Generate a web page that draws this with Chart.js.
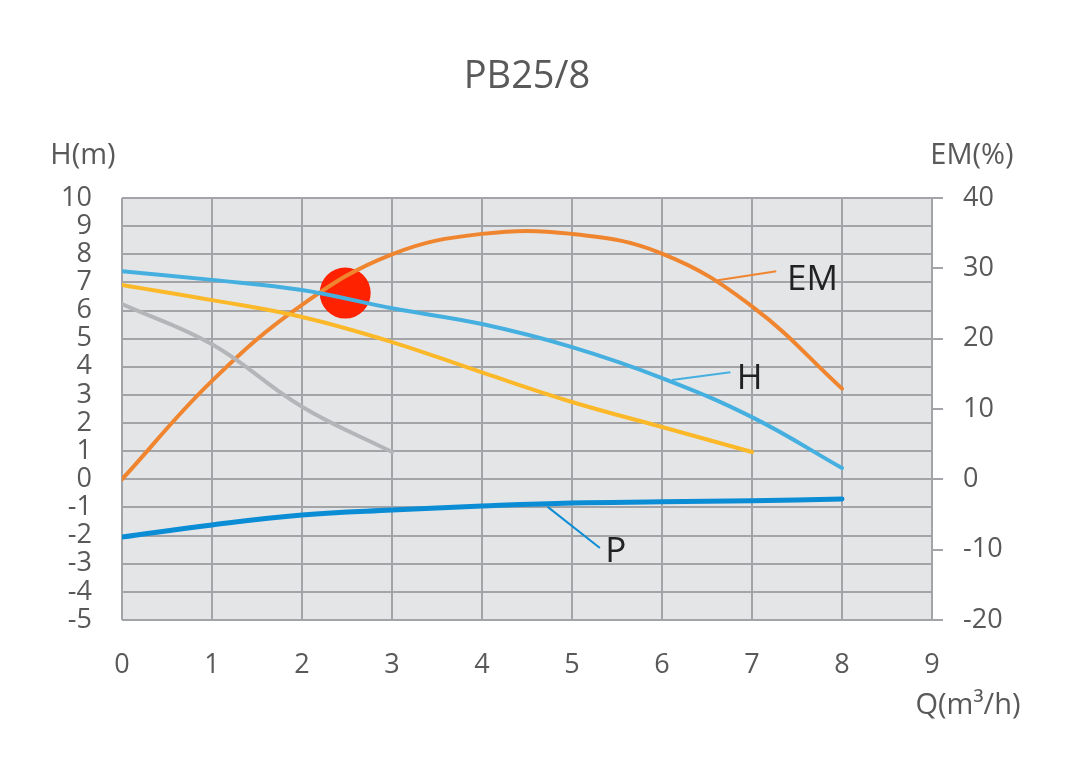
<!DOCTYPE html>
<html>
<head>
<meta charset="utf-8">
<script src="https://cdn.jsdelivr.net/npm/chart.js@4/dist/chart.umd.min.js"></script>
<style>
  html, body { margin: 0; padding: 0; background: #fff; }
  #wrap { width: 1080px; height: 768px; }
</style>
</head>
<body>
<div id="wrap"><canvas id="pump" width="1080" height="768"></canvas></div>
<script>
// flow points (Q, m3/h) and readings taken off the curves
const qFull = [0, 1, 2, 3, 4, 5, 6, 7, 8];
const headH = [7.4, 7.09, 6.73, 6.08, 5.52, 4.70, 3.60, 2.21, 0.40];
const qMid = [0, 1, 2, 3, 4, 5, 6, 7];
const headMid = [6.91, 6.37, 5.77, 4.88, 3.80, 2.75, 1.86, 0.97];
const qLow = [0, 1, 2, 3];
const headLow = [6.23, 4.80, 2.58, 0.97];
const effEM = [0, 14.0, 24.8, 32.0, 34.9, 34.9, 32.1, 24.6, 12.9];
const powerP = [-2.05, -1.62, -1.27, -1.09, -0.95, -0.84, -0.80, -0.76, -0.70];
const dutyPoint = [2.48, 6.62];

const xTicks = [0, 1, 2, 3, 4, 5, 6, 7, 8, 9];
const hTicks = [10, 9, 8, 7, 6, 5, 4, 3, 2, 1, 0, -1, -2, -3, -4, -5];
const emTicks = [40, 30, 20, 10, 0, -10, -20];

// callouts: [from Q, from val, to Q, to val, text Q, text val] ; axis key
const callouts = [
  { txt: 'EM', axis: 'y1', pts: [6.62, 28.3, 7.27, 29.6, 7.39, 28.4], color: '#f08530' },
  { txt: 'H', axis: 'y', pts: [6.11, 3.53, 6.76, 3.81, 6.83, 3.58], color: '#45b0e0' },
  { txt: 'P', axis: 'y', pts: [4.73, -0.98, 5.31, -2.44, 5.37, -2.58], color: '#0b8dd5' }
];

const pairs = (xs, ys) => xs.map((x, i) => ({ x, y: ys[i] }));
const GRID = '#a2a4a7';
const TXT = '#595959';
const FONT = "'Open Sans', sans-serif";

const decor = {
  id: 'decor',
  beforeDraw(chart) {
    const { ctx, chartArea: a } = chart;
    ctx.save();
    ctx.fillStyle = '#e4e5e7';
    ctx.fillRect(a.left, a.top, a.right - a.left, a.bottom - a.top);
    ctx.restore();
  },
  afterDatasetsDraw(chart) {
    const { ctx, scales } = chart;
    ctx.save();
    callouts.forEach(c => {
      const ys = scales[c.axis], xs = scales.x;
      const p = c.pts;
      ctx.strokeStyle = c.color;
      ctx.lineWidth = 2;
      ctx.beginPath();
      ctx.moveTo(xs.getPixelForValue(p[0]), ys.getPixelForValue(p[1]));
      ctx.lineTo(xs.getPixelForValue(p[2]), ys.getPixelForValue(p[3]));
      ctx.stroke();
      ctx.fillStyle = '#222';
      ctx.font = '35px ' + FONT;
      ctx.textAlign = 'left';
      ctx.textBaseline = 'middle';
      ctx.fillText(c.txt, xs.getPixelForValue(p[4]), ys.getPixelForValue(p[5]));
    });
    ctx.fillStyle = TXT;
    ctx.textAlign = 'center';
    ctx.textBaseline = 'middle';
    ctx.font = '38px ' + FONT;
    ctx.fillText('PB25/8', 527, 77);
    ctx.font = '29px ' + FONT;
    ctx.fillText('H(m)', 83, 156);
    ctx.fillText('EM(%)', 972, 156);
    ctx.fillText('Q(m³/h)', 968, 706);
    ctx.restore();
  }
};

const line = (label, data, color, width, axis) => ({
  label, data, borderColor: color, borderWidth: width, yAxisID: axis,
  pointRadius: 0, tension: 0.4, fill: false, borderCapStyle: 'round'
});

new Chart(document.getElementById('pump'), {
  type: 'line',
  data: {
    datasets: [
      line('gray', pairs(qLow, headLow), '#b4b5b8', 4, 'y'),
      line('yellow', pairs(qMid, headMid), '#fbb829', 4, 'y'),
      line('H', pairs(qFull, headH), '#45b0e0', 4, 'y'),
      line('EM', pairs(qFull, effEM), '#f08530', 4, 'y1'),
      line('P', pairs(qFull, powerP), '#0b8dd5', 5, 'y'),
      { label: 'duty', type: 'scatter', data: [{ x: dutyPoint[0], y: dutyPoint[1] }], yAxisID: 'y',
        pointRadius: 25.5, pointBackgroundColor: '#ff2200', pointBorderWidth: 0, pointHoverRadius: 25.5 }
    ]
  },
  options: {
    responsive: false,
    animation: false,
    layout: { padding: { top: 198, left: 0, right: 0, bottom: 0 } },
    plugins: { legend: { display: false }, tooltip: { enabled: false }, title: { display: false } },
    scales: {
      x: {
        type: 'linear', min: 0, max: 9,
        afterBuildTicks: s => { s.ticks = xTicks.map(v => ({ value: v })); },
        afterFit: s => { s.height = 148; },
        grid: { color: GRID, lineWidth: 2, drawTicks: false },
        border: { display: false },
        ticks: { color: TXT, font: { family: FONT, size: 27 }, padding: 29, maxRotation: 0 }
      },
      y: {
        position: 'left', min: -5, max: 10,
        afterBuildTicks: s => { s.ticks = hTicks.map(v => ({ value: v })); },
        afterFit: s => { s.width = 122; },
        grid: { color: GRID, lineWidth: 2, drawTicks: false },
        border: { display: false },
        ticks: { color: TXT, font: { family: FONT, size: 27 }, padding: 30, autoSkip: false }
      },
      y1: {
        position: 'right', min: -20, max: 40,
        afterBuildTicks: s => { s.ticks = emTicks.map(v => ({ value: v })); },
        afterFit: s => { s.width = 148; },
        grid: { drawOnChartArea: false, color: GRID, lineWidth: 2, tickLength: 11 },
        border: { display: true, color: GRID, width: 2 },
        ticks: { color: TXT, font: { family: FONT, size: 27 }, padding: 20, autoSkip: false }
      }
    }
  },
  plugins: [decor]
});
</script>
</body>
</html>
